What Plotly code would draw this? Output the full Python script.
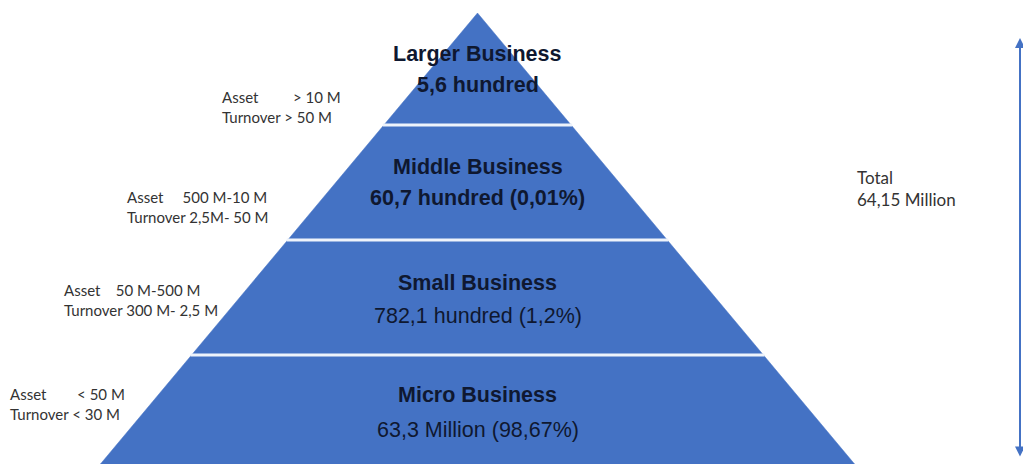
import plotly.graph_objects as go

# ---------------- data ----------------
levels = ["Larger Business", "Middle Business", "Small Business", "Micro Business"]
counts = ["5,6 hundred", "60,7 hundred (0,01%)", "782,1 hundred (1,2%)", "63,3 Million (98,67%)"]
count_bold = [True, True, False, False]
asset_crit = ["> 10 M", "500 M-10 M", "50 M-500 M", "< 50 M"]
turnover_crit = ["> 50 M", "2,5M- 50 M", "300 M- 2,5 M", "< 30 M"]
total_label = ["Total", "64,15 Million"]

# ---------------- geometry (pixel canvas) ----------------
W, H = 1023, 464
apex_x, apex_y = 477.5, 13
slope = 0.836
band_edges = [apex_y, 125, 240, 355, 464]
title_y = [54, 167, 283, 395]
count_y = [85, 198, 316, 430]
crit_x = [220, 125, 62, 8]
crit_y = [107, 207, 300, 404]
crit_gap = [9, 5, 4, 8]

BLUE = "#4472C4"
TEXT = "#0f1830"

def half(y):
    return slope * (y - apex_y)

fig = go.Figure()
for i in range(len(levels)):
    y0, y1 = band_edges[i], band_edges[i + 1]
    xs = [apex_x - half(y0), apex_x + half(y0), apex_x + half(y1), apex_x - half(y1), apex_x - half(y0)]
    ys = [y0, y0, y1, y1, y0]
    fig.add_trace(go.Scatter(x=xs, y=ys, mode="lines", fill="toself",
                             fillcolor=BLUE, line=dict(color=BLUE, width=0.5),
                             hoverinfo="skip", showlegend=False))

# separators
for y in band_edges[1:-1]:
    fig.add_trace(go.Scatter(x=[apex_x - half(y) - 1, apex_x + half(y) + 1], y=[y, y],
                             mode="lines", line=dict(color="#eef3fb", width=3),
                             hoverinfo="skip", showlegend=False))

ann = []
for i, name in enumerate(levels):
    ann.append(dict(x=apex_x, y=title_y[i], text="<b>%s</b>" % name, showarrow=False,
                    font=dict(family="Liberation Sans, Arial", size=21.5, color=TEXT),
                    xanchor="center", yanchor="middle"))
    t = "<b>%s</b>" % counts[i] if count_bold[i] else counts[i]
    ann.append(dict(x=apex_x, y=count_y[i], text=t, showarrow=False,
                    font=dict(family="Liberation Sans, Arial", size=21.5, color=TEXT),
                    xanchor="center", yanchor="middle"))
    txt = "Asset" + "\u00a0" * crit_gap[i] + asset_crit[i] + "<br>Turnover " + turnover_crit[i]
    ann.append(dict(x=crit_x[i], y=crit_y[i], text=txt, showarrow=False, align="left",
                    font=dict(family="Lato, Open Sans", size=15, color="#333333"),
                    xanchor="left", yanchor="middle"))

ann.append(dict(x=855, y=188, text="<br>".join(total_label), showarrow=False, align="left",
                font=dict(family="Lato, Open Sans", size=17, color="#333333"),
                xanchor="left", yanchor="middle"))

# double-headed arrow on the right
ann.append(dict(x=1020, y=38, ax=1020, ay=458, xref="x", yref="y", axref="x", ayref="y",
                text="", showarrow=True, arrowhead=2, startarrowhead=2, arrowside="end+start",
                arrowsize=1, arrowwidth=2, arrowcolor=BLUE))

fig.update_layout(
    width=W, height=H, margin=dict(l=0, r=0, t=0, b=0),
    paper_bgcolor="white", plot_bgcolor="white",
    xaxis=dict(range=[0, W], visible=False, fixedrange=True),
    yaxis=dict(range=[H, 0], visible=False, fixedrange=True),
    annotations=ann, showlegend=False,
)
fig.write_html("out.html")
